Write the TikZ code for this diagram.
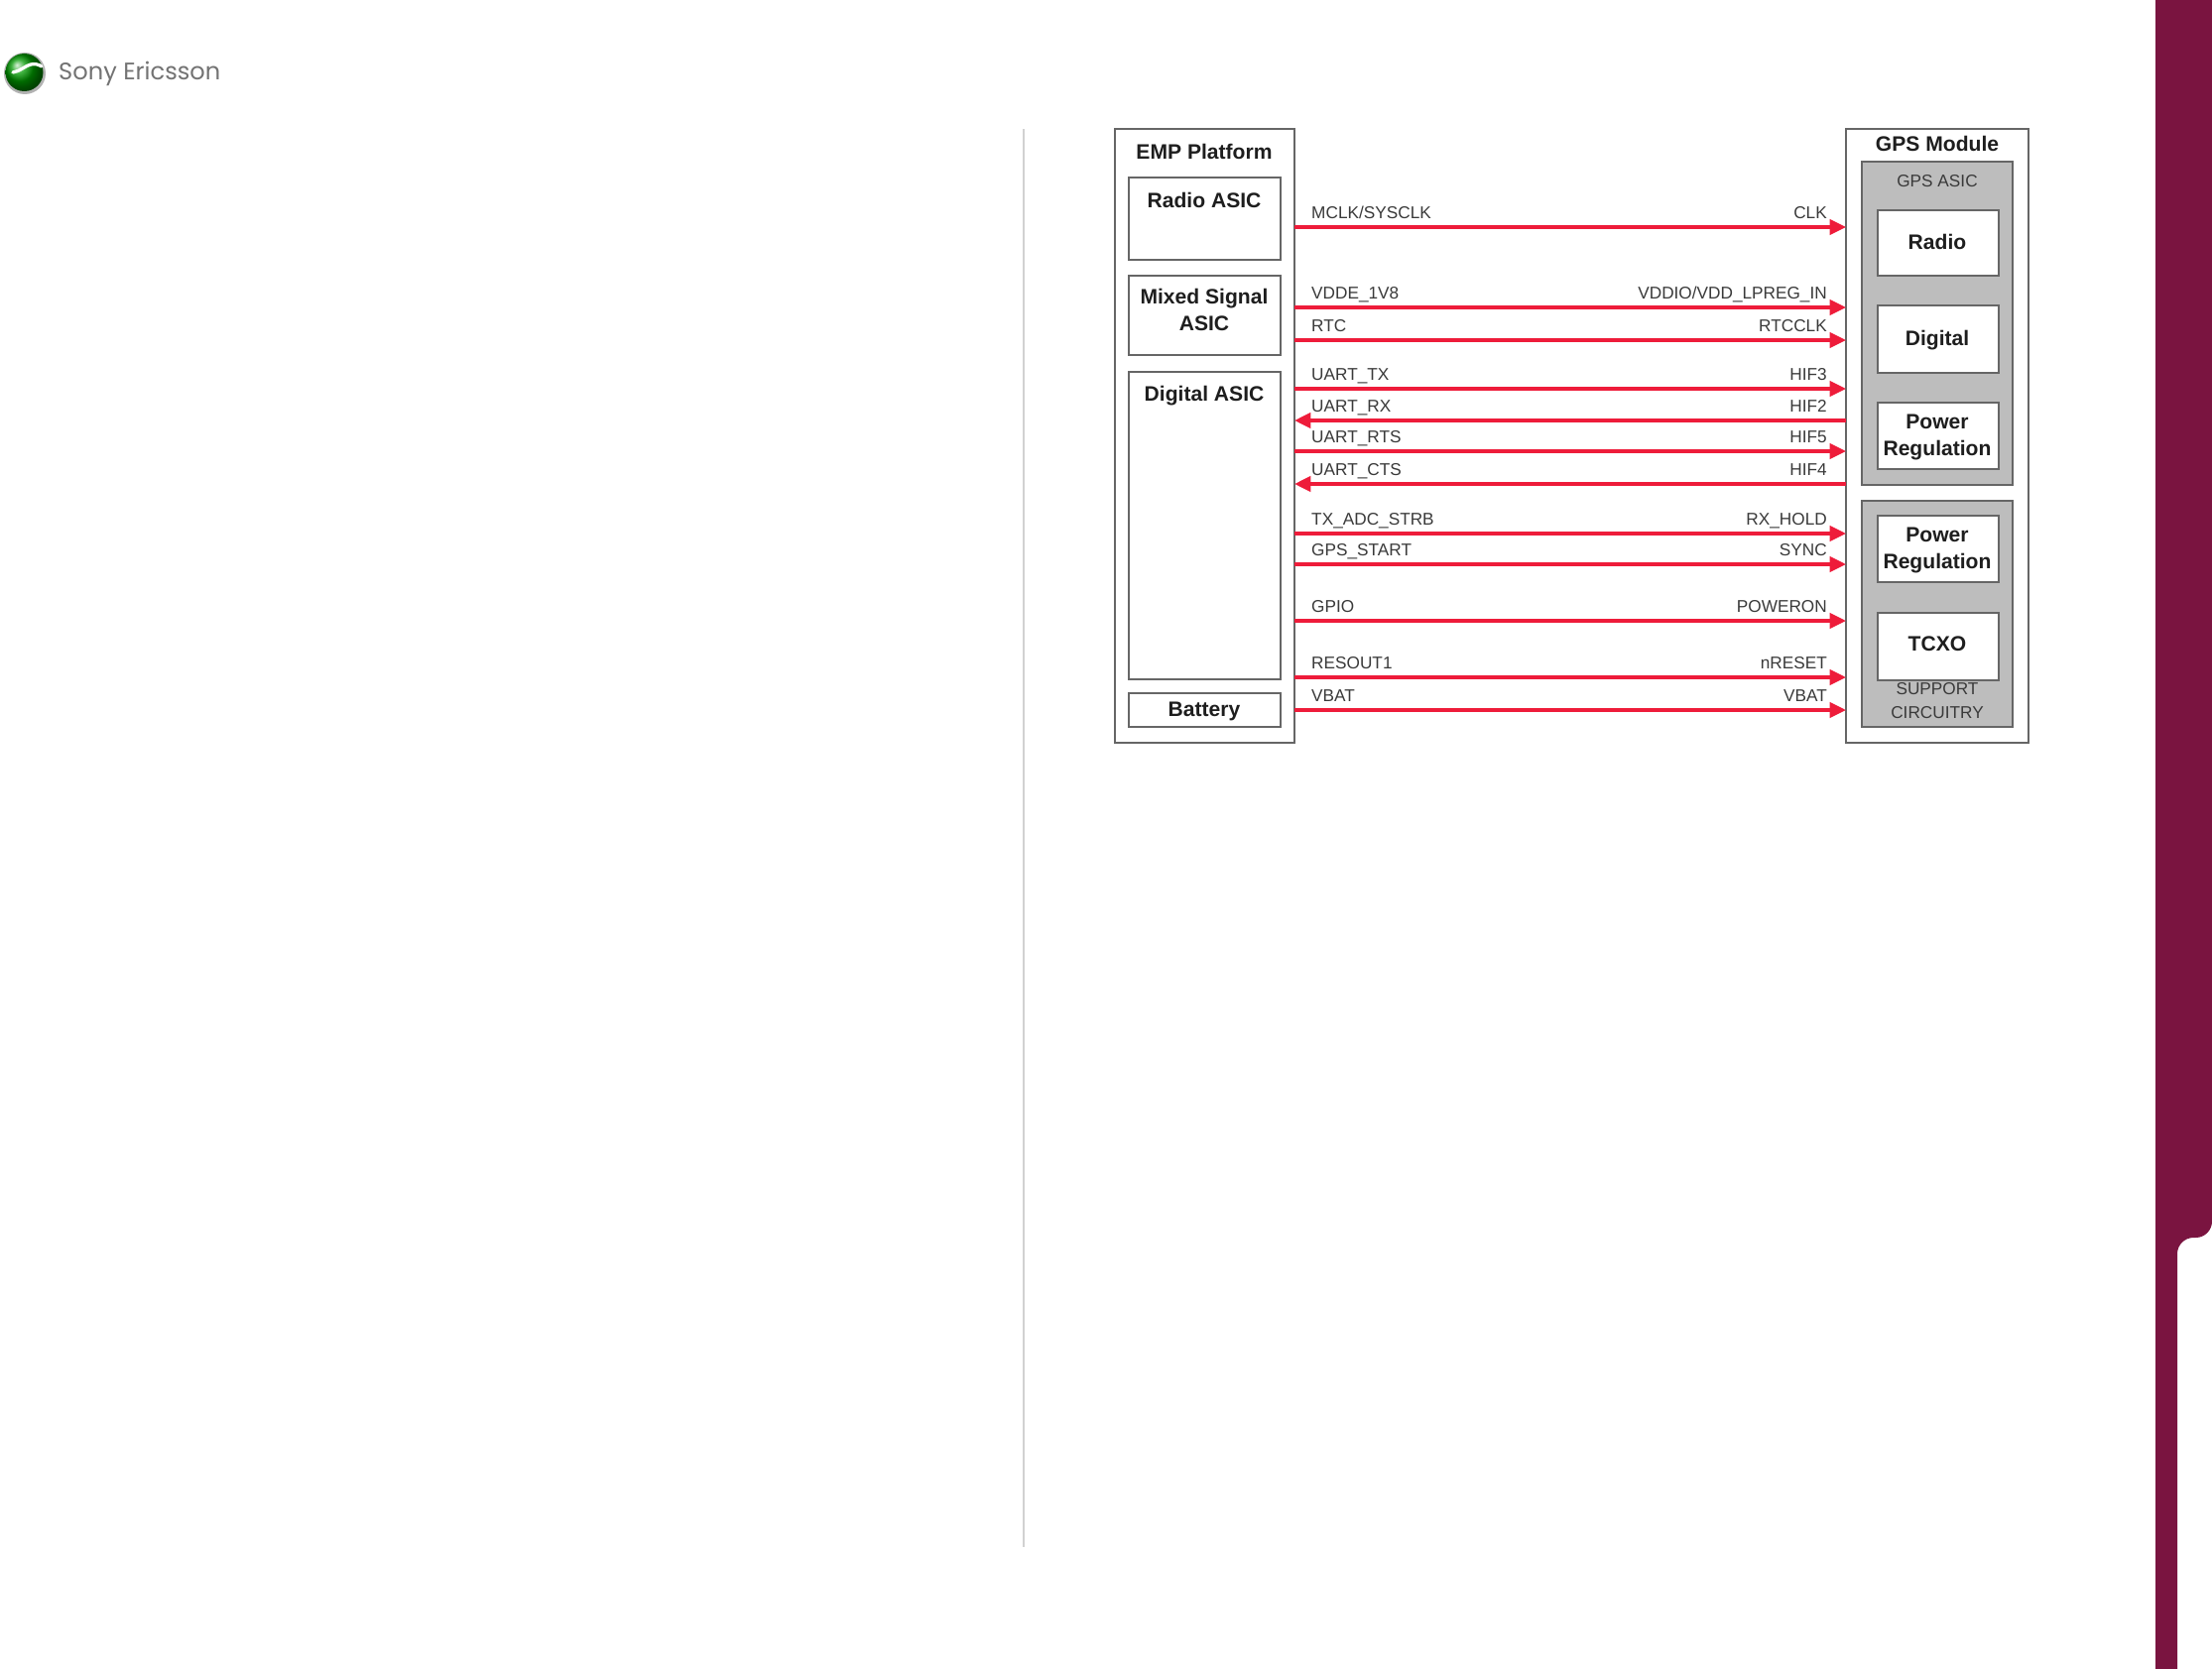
\documentclass[tikz,border=0pt]{standalone}
\usepackage{fontspec}
\setmainfont{Liberation Sans}
\newfontfamily\logofont{Poppins}
\usetikzlibrary{arrows.meta}
\definecolor{bandc}{HTML}{7A1440}
\definecolor{sigred}{HTML}{EE1C3A}
\definecolor{edgec}{HTML}{666666}
\definecolor{asicgray}{HTML}{BDBDBD}
\definecolor{inkc}{HTML}{1E1E1E}
\definecolor{labc}{HTML}{3A3A3A}
\tikzset{
  frame/.style={draw=edgec,line width=2.4pt,fill=white,inner sep=0pt,outer sep=0pt},
  graybox/.style={frame,fill=asicgray},
  ttl/.style={anchor=base,inner sep=0pt,text=inkc,font=\fontsize{18}{20}\selectfont\bfseries},
  small/.style={anchor=base,inner sep=0pt,text=labc,font=\fontsize{14.7}{16}\selectfont},
  lab/.style={small,anchor=base west},
  rab/.style={small,anchor=base east},
  sigline/.style={draw=sigred,line width=3pt,-{Triangle[length=14pt,width=13pt]}}
}
% name, x0, y0, x1, y1, style
\newcommand{\pbox}[6]{\node[#6,minimum width={(#4-#2)*0.03cm},minimum height={(#5-#3)*0.03cm}] (#1) at ({(#2+#4)/2},{(#3+#5)/2}) {};}
% id, y, left text, right text
\newcommand{\sigR}[4]{%
  \coordinate (a#1) at (emp.east |- 0,#2);
  \coordinate (b#1) at (gps.west |- 0,#2);
  \draw[sigline] (a#1) -- (b#1);
  \node[lab] (ll#1) at (1322,#2-8.5) {#3};
  \node[rab] (rl#1) at (1842,#2-8.5) {#4};}
\newcommand{\sigL}[4]{%
  \coordinate (a#1) at (emp.east |- 0,#2);
  \coordinate (b#1) at (gps.west |- 0,#2);
  \draw[sigline] (b#1) -- (a#1);
  \node[lab] (ll#1) at (1322,#2-8.5) {#3};
  \node[rab] (rl#1) at (1842,#2-8.5) {#4};}
\begin{document}
\begin{tikzpicture}[x=0.03cm,y=-0.03cm]
\useasboundingbox (0,0) rectangle (2230,1683);
\fill[white] (0,0) rectangle (2230,1683);
% side band
\fill[bandc,rounded corners=14pt] (2173,-40) -- (2230,-40) -- (2230,1248) -- (2195,1248) -- (2195,1723) -- (2173,1723) -- cycle;
% divider
\draw[draw=black!18,line width=1.2pt] (1032,130) -- (1032,1560);
% logo
\fill[black!30] (25,74) circle (21);
\shade[ball color=green!60!black] (24.5,73) circle (19);
\draw[white,line width=2.8pt,line cap=round] (13,73) .. controls (20,72) and (26,66) .. (31,65) .. controls (35,64) and (39,65) .. (42,67);
\node[anchor=base west,inner sep=0pt,text=black!55,font=\logofont\fontsize{20.6}{22}\selectfont] (brand) at (59,81) {Sony Ericsson};
% left
\pbox{emp}{1124}{130}{1305}{749}{frame}
\pbox{rasic}{1138}{179}{1291}{262}{frame}
\pbox{msasic}{1138}{278}{1291}{358}{frame}
\pbox{dasic}{1138}{375}{1291}{685}{frame}
\pbox{batt}{1138}{699}{1291}{733}{frame}
\node[ttl] (t1) at (1214,160) {EMP Platform};
\node[ttl] (t2) at (1214,209) {Radio ASIC};
\node[ttl] (t3) at (1214,306) {Mixed Signal};
\node[ttl] (t4) at (1214,333) {ASIC};
\node[ttl] (t5) at (1214,404) {Digital ASIC};
\node[ttl] (t6) at (1214,722) {Battery};
% right
\pbox{gps}{1861}{130}{2045}{749}{frame}
\pbox{gasic}{1877}{163}{2029}{489}{graybox}
\pbox{supp}{1877}{505}{2029}{733}{graybox}
\pbox{gr}{1893}{212}{2015}{278}{frame}
\pbox{gd}{1893}{308}{2015}{376}{frame}
\pbox{gp}{1893}{406}{2015}{473}{frame}
\pbox{sp}{1893}{520}{2015}{587}{frame}
\pbox{st}{1893}{618}{2015}{686}{frame}
\node[ttl] (u1) at (1953,152) {GPS Module};
\node[small] (u2) at (1953,188) {GPS ASIC};
\node[ttl] (u3) at (1953,251) {Radio};
\node[ttl] (u4) at (1953,348) {Digital};
\node[ttl] (u5) at (1953,432) {Power};
\node[ttl] (u6) at (1953,459) {Regulation};
\node[ttl] (u7) at (1953,546) {Power};
\node[ttl] (u8) at (1953,573) {Regulation};
\node[ttl] (u9) at (1953,656) {TCXO};
\node[small] (u10) at (1953,700) {SUPPORT};
\node[small] (u11) at (1953,724) {CIRCUITRY};
% signals
\sigR{1}{229}{MCLK/SYSCLK}{CLK}
\sigR{2}{310}{VDDE\_1V8}{VDDIO/VDD\_LPREG\_IN}
\sigR{3}{343}{RTC}{RTCCLK}
\sigR{4}{392}{UART\_TX}{HIF3}
\sigL{5}{424}{UART\_RX}{HIF2}
\sigR{6}{455}{UART\_RTS}{HIF5}
\sigL{7}{488}{UART\_CTS}{HIF4}
\sigR{8}{538}{TX\_ADC\_STRB}{RX\_HOLD}
\sigR{9}{569}{GPS\_START}{SYNC}
\sigR{10}{626}{GPIO}{POWERON}
\sigR{11}{683}{RESOUT1}{nRESET}
\sigR{12}{716}{VBAT}{VBAT}
\end{tikzpicture}
\end{document}
